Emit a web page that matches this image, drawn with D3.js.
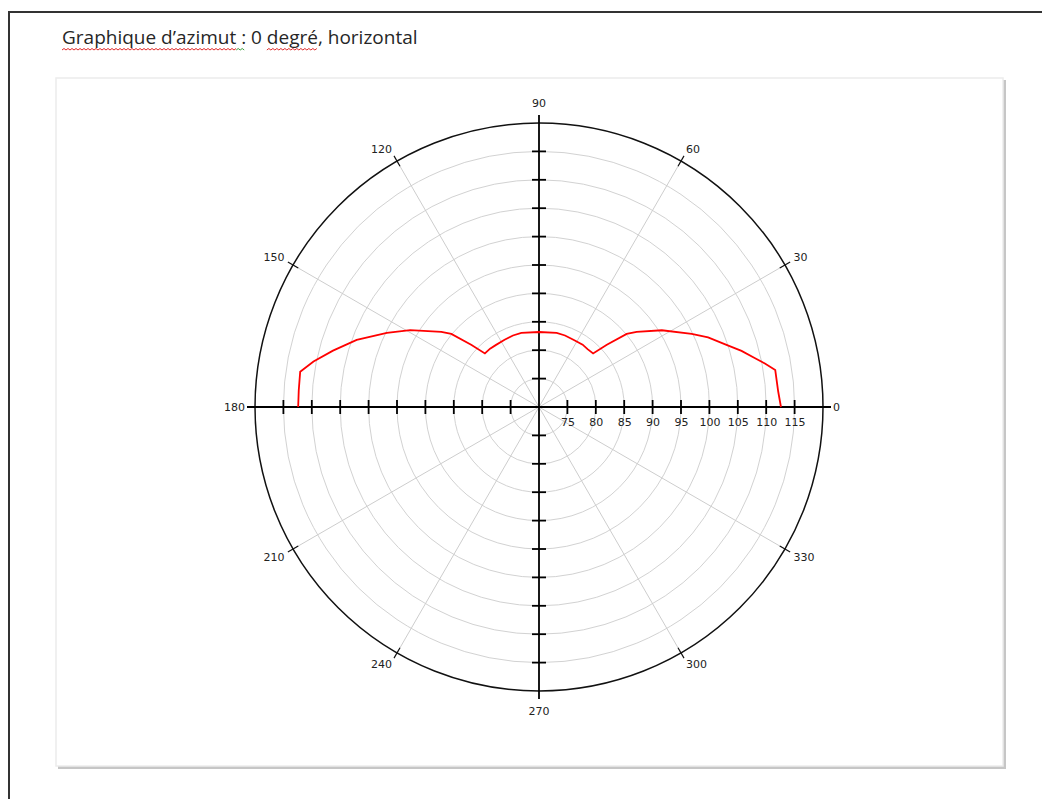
<!DOCTYPE html>
<html>
<head>
<meta charset="utf-8">
<script src="https://cdn.jsdelivr.net/npm/d3@7"></script>
<style>
  body { margin: 0; background: #fff; }
  svg { display: block; }
</style>
</head>
<body>
<div class="canvas"></div>
<script>
// chart data
const title = 'Graphique d’azimut : 0 degré, horizontal'
const angleDeg = [0, 3.7, 8.9, 10.9, 12.7, 15.5, 18.7, 22.4, 25.6, 32, 37.6, 39.8, 42.5, 44.7, 50, 55, 62.9, 70, 76.6, 90,
  103.4, 110, 117.1, 125, 130, 135.3, 137.5, 140.2, 142.4, 149.2, 154, 159.8, 164.7, 168.6, 171.6, 176, 180]
const gainValues = [112.6, 112.2, 112.1, 110.5, 109.0, 107.0, 104.5, 102.2, 99.8, 95.5, 91.7, 90.1, 86.2, 83.4, 83.3, 83.4, 83.3, 83.4, 83.4, 83.2,
  83.4, 83.4, 83.3, 83.3, 83.4, 83.4, 86.2, 90.1, 91.7, 96.4, 99.8, 104.2, 107.6, 110.5, 112.5, 112.4, 112.4]
const radialTicks = [75, 80, 85, 90, 95, 100, 105, 110, 115]
const angleTicks = [0, 30, 60, 90, 120, 150, 180, 210, 240, 270, 300, 330]

// layout settings
const dims = { width: 1042, height: 799 }
const cent = { x: 539, y: 407 }
const radius = 284
const rad = d => d * Math.PI / 180

const svg = d3.select('.canvas')
  .append('svg')
  .attr('width', dims.width)
  .attr('height', dims.height)
  .style('font-family', 'DejaVu Sans, sans-serif')

// page frame (top + left edge)
svg.append('path')
  .attr('d', `M9,${dims.height} V12 H${dims.width}`)
  .attr('fill', 'none')
  .attr('stroke', '#333')
  .attr('stroke-width', 2)

// title + spell-check squiggles
const titleText = svg.append('text')
  .attr('x', 62)
  .attr('y', 44)
  .attr('font-family', 'Open Sans, sans-serif')
  .attr('font-size', 19)
  .attr('fill', '#262626')
  .text(title)

const node = titleText.node()
const squiggle = (x0, x1, y) => {
  let d = `M${x0},${y}`
  let up = true
  for (let x = x0 + 2; x <= x1; x += 2) {
    d += ` L${x},${up ? y - 1.5 : y}`
    up = !up
  }
  return d
}
const marks = [
  { from: 0, to: 18, colour: '#e02b2b' },
  { from: 18, to: 20, colour: '#3b9a3b' },
  { from: 23, to: 28, colour: '#e02b2b' },
]
marks.forEach(m => {
  const x0 = node.getStartPositionOfChar(m.from).x
  const x1 = x0 + node.getSubStringLength(m.from, m.to - m.from)
  svg.append('path')
    .attr('d', squiggle(x0, x1, 50))
    .attr('fill', 'none')
    .attr('stroke', m.colour)
    .attr('stroke-width', 1)
})

// chart box with a soft shadow
svg.append('rect')
  .attr('x', 58).attr('y', 80)
  .attr('width', 948).attr('height', 689)
  .attr('fill', '#c6c6c6')
svg.append('rect')
  .attr('x', 56).attr('y', 78)
  .attr('width', 947).attr('height', 688)
  .attr('fill', '#fff')
  .attr('stroke', '#ececec')
  .attr('stroke-width', 1.5)

const graph = svg.append('g')
  .attr('transform', `translate(${cent.x}, ${cent.y})`)

const r = d3.scaleLinear()
  .domain([70, 120])
  .range([0, radius])

// grid circles
graph.selectAll('circle.grid')
  .data(radialTicks)
  .enter()
  .append('circle')
  .attr('class', 'grid')
  .attr('r', d => r(d))
  .attr('fill', 'none')
  .attr('stroke', '#d2d2d2')
  .attr('stroke-width', 1)

// grey spokes
graph.selectAll('line.spoke')
  .data(angleTicks.filter(a => a % 90 !== 0))
  .enter()
  .append('line')
  .attr('class', 'spoke')
  .attr('x1', 0).attr('y1', 0)
  .attr('x2', a => radius * Math.cos(rad(a)))
  .attr('y2', a => -radius * Math.sin(rad(a)))
  .attr('stroke', '#cdcdcd')
  .attr('stroke-width', 1)

// outer circle
graph.append('circle')
  .attr('r', radius)
  .attr('fill', 'none')
  .attr('stroke', '#111')
  .attr('stroke-width', 1.5)

// small marks across the outer circle at the angle ticks
graph.selectAll('line.atick')
  .data(angleTicks.filter(a => a % 90 !== 0))
  .enter()
  .append('line')
  .attr('class', 'atick')
  .attr('x1', a => (radius - 6) * Math.cos(rad(a)))
  .attr('y1', a => -(radius - 6) * Math.sin(rad(a)))
  .attr('x2', a => (radius + 6) * Math.cos(rad(a)))
  .attr('y2', a => -(radius + 6) * Math.sin(rad(a)))
  .attr('stroke', '#111')
  .attr('stroke-width', 1.2)

// main cross axes
const ext = radius + 8
graph.append('line')
  .attr('x1', -ext).attr('x2', ext).attr('y1', 0).attr('y2', 0)
  .attr('stroke', '#000').attr('stroke-width', 1.8)
graph.append('line')
  .attr('y1', -ext).attr('y2', ext).attr('x1', 0).attr('x2', 0)
  .attr('stroke', '#000').attr('stroke-width', 1.8)

// ticks on all four half axes
const tickData = []
radialTicks.forEach(v => [0, 90, 180, 270].forEach(a => tickData.push({ v, a })))
graph.selectAll('line.rtick')
  .data(tickData)
  .enter()
  .append('line')
  .attr('class', 'rtick')
  .attr('x1', d => d.a % 180 === 0 ? r(d.v) * Math.cos(rad(d.a)) : -7)
  .attr('x2', d => d.a % 180 === 0 ? r(d.v) * Math.cos(rad(d.a)) : 7)
  .attr('y1', d => d.a % 180 === 0 ? -7 : -r(d.v) * Math.sin(rad(d.a)))
  .attr('y2', d => d.a % 180 === 0 ? 7 : -r(d.v) * Math.sin(rad(d.a)))
  .attr('stroke', '#000')
  .attr('stroke-width', 1.8)

// radial tick labels along 0 degree axis
const rAxis = d3.axisBottom(r)
  .tickValues(radialTicks)
  .tickSize(0)
  .tickPadding(11)
graph.append('g')
  .call(rAxis)
  .call(g => g.select('.domain').remove())
  .selectAll('text')
  .attr('font-size', 11)
  .attr('font-family', 'DejaVu Sans, sans-serif')
  .attr('fill', '#222')

// angle labels
graph.selectAll('text.alabel')
  .data(angleTicks)
  .enter()
  .append('text')
  .attr('class', 'alabel')
  .attr('x', a => (radius + 10) * Math.cos(rad(a)))
  .attr('y', a => {
    const s = Math.sin(rad(a))
    let y = -(radius + 10) * s
    if (Math.abs(s) > 0.99) y += s > 0 ? -10 : 10
    else if (Math.abs(s) > 0.01) y += s > 0 ? -3 : 3
    return y
  })
  .attr('dy', '0.35em')
  .attr('text-anchor', a => {
    const c = Math.cos(rad(a))
    return c > 0.01 ? 'start' : c < -0.01 ? 'end' : 'middle'
  })
  .attr('font-size', 11)
  .attr('fill', '#222')
  .text(a => a)

// measured pattern
const pattern = angleDeg.map((a, i) => [a, gainValues[i]])
const line = d3.lineRadial()
  .angle(d => rad(90 - d[0]))
  .radius(d => r(d[1]))

graph.append('path')
  .datum(pattern)
  .attr('d', line)
  .attr('fill', 'none')
  .attr('stroke', '#ff0000')
  .attr('stroke-width', 1.8)
</script>
</body>
</html>
